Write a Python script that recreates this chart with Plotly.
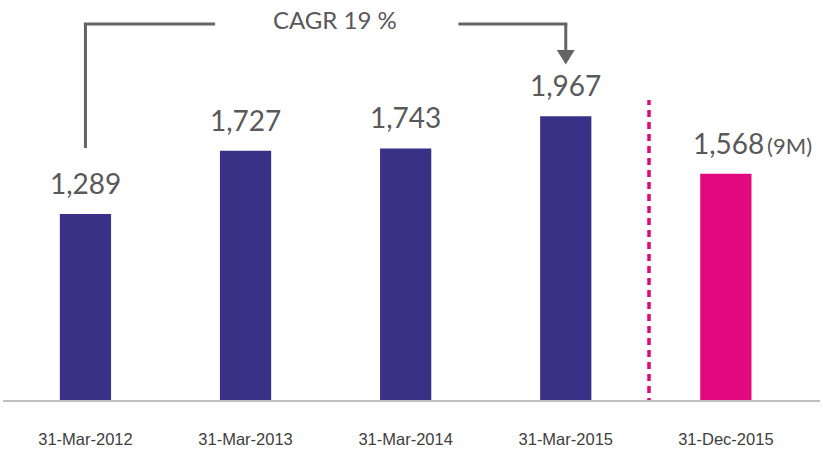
import plotly.graph_objects as go

categories = ["31-Mar-2012", "31-Mar-2013", "31-Mar-2014", "31-Mar-2015", "31-Dec-2015"]
values = [1289, 1727, 1743, 1967, 1568]
suffixes = ["", "", "", "", "(9M)"]
bar_colors = ["#393185", "#393185", "#393185", "#393185", "#E2097E"]
cagr_text = "CAGR 19 %"

xs = list(range(len(categories)))

fig = go.Figure()
fig.add_trace(go.Bar(
    x=xs, y=values, width=0.32,
    marker=dict(color=bar_colors, line=dict(width=0)),
    hoverinfo="skip",
))

# value labels
for i, (v, s) in enumerate(zip(values, suffixes)):
    txt = f"{v:,}"
    if s:
        txt += f"<span style='font-size:22px'>\u2009{s}</span>"
        fig.add_annotation(x=i, y=v, text=txt, showarrow=False, xanchor="left",
                           xshift=-35, yanchor="bottom", yshift=12,
                           font=dict(family="Lato", size=28, color="#595959"))
    else:
        fig.add_annotation(x=i, y=v, text=txt, showarrow=False, xanchor="center",
                           yanchor="bottom", yshift=12,
                           font=dict(family="Lato", size=28, color="#595959"))

line_col = "#646464"
top_y = 2606
shapes = [
    dict(type="line", xref="x", yref="y", x0=0, x1=0, y0=1746, y1=top_y,
         line=dict(color=line_col, width=3)),
    dict(type="line", xref="x", yref="y", x0=-0.01, x1=0.81, y0=top_y, y1=top_y,
         line=dict(color=line_col, width=3)),
    dict(type="line", xref="x", yref="y", x0=2.33, x1=3.01, y0=top_y, y1=top_y,
         line=dict(color=line_col, width=3)),
    dict(type="line", xref="x", yref="y", x0=3, x1=3, y0=2420, y1=top_y,
         line=dict(color=line_col, width=3)),
    dict(type="path", xref="x", yref="y",
         path="M 2.944,2425 L 3.056,2425 L 3,2325 Z",
         fillcolor=line_col, line=dict(color=line_col, width=0)),
    dict(type="line", xref="x", yref="y", x0=3.52, x1=3.52, y0=-35, y1=2079,
         line=dict(color="#E2097E", width=3.5, dash="7px,5px")),
]
fig.add_annotation(x=1.56, y=top_y, text=cagr_text, showarrow=False,
                   yanchor="middle", yshift=4,
                   font=dict(family="Lato", size=24, color="#595959"))

fig.update_layout(
    width=823, height=451,
    margin=dict(l=3, r=3, t=0, b=51),
    paper_bgcolor="white", plot_bgcolor="white",
    showlegend=False,
    shapes=shapes,
    xaxis=dict(range=[-0.515, 4.588], tickvals=xs, ticktext=categories,
               showgrid=False, zeroline=False, showline=True,
               linecolor="#BFBFBF", linewidth=2, ticks="",
               ticklabelstandoff=23,
               tickfont=dict(family="Liberation Sans, Arial, sans-serif",
                             size=16.5, color="#404040")),
    yaxis=dict(range=[0, 2772], visible=False, showgrid=False, zeroline=False),
)

fig.write_html("out.html", config={"displayModeBar": False},
               post_script="document.body.style.margin='0';document.body.style.overflow='hidden';")
